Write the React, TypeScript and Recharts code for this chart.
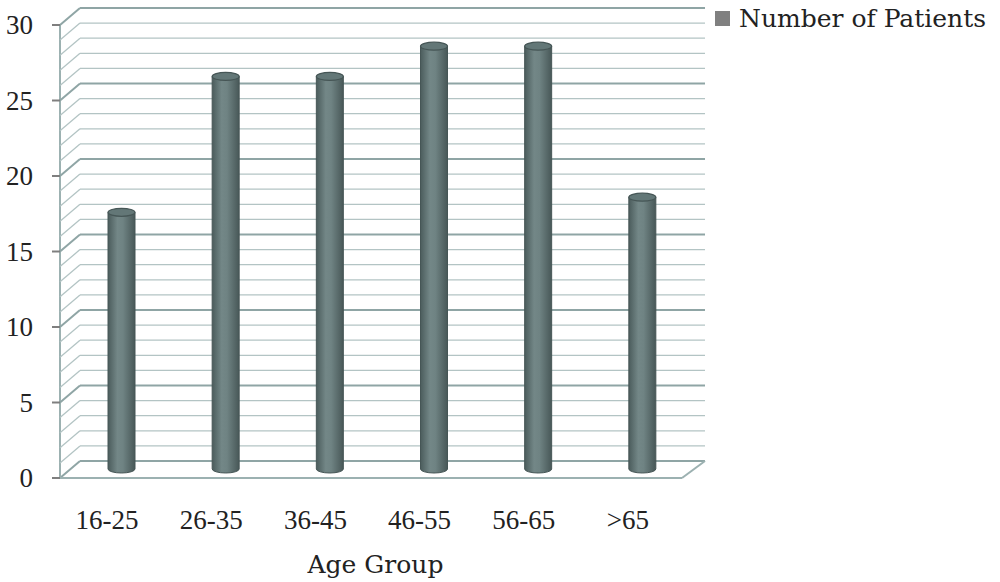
import React from "react";
import { BarChart, Bar, XAxis, YAxis, CartesianGrid } from "recharts";

// ── Data ──────────────────────────────────────────────────────────────────────

const ageGroups = ["16-25", "26-35", "36-45", "46-55", "56-65", ">65"];
const patients = [17, 26, 26, 28, 28, 18];
const gridSteps = [
  0, 1, 2, 3, 4, 5, 6, 7, 8, 9, 10, 11, 12, 13, 14, 15, 16, 17, 18, 19, 20, 21, 22, 23, 24, 25, 26,
  27, 28, 29, 30,
];
const labeledTicks = [0, 5, 10, 15, 20, 25, 30];

const data = ageGroups.map((g, i) => ({ group: g, patients: patients[i] }));

// ── 3D offsets (back wall -> front) ───────────────────────────────────────────

const DX = 20;
const DY = 17;
const NUM_FONT = "'Liberation Serif', serif";
const TEXT_FONT = "'DejaVu Serif', serif";
const MINOR = "#b3c4c4";
const MAJOR = "#8fa5a5";
const EDGE = "#9cb1b1";

function GridLine(props: any) {
  const { x1, y1, x2, index, y, height } = props;
  const isFloor = height !== undefined && Math.abs(y1 - (y + height)) < 1;
  const major = index % 5 === 0 || isFloor;
  const stroke = major ? MAJOR : MINOR;
  const sw = major ? 2 : 1.3;
  return (
    <g>
      <line x1={x1} y1={y1} x2={x2} y2={y1} stroke={stroke} strokeWidth={sw} />
      <line x1={x1} y1={y1} x2={x1 - DX} y2={y1 + DY} stroke={stroke} strokeWidth={sw} />
      {isFloor && (
        <g>
          <line x1={x1 - DX} y1={y1 + DY} x2={x2 - DX - 3} y2={y1 + DY} stroke={EDGE} strokeWidth={2} />
          <line x1={x2 - DX - 3} y1={y1 + DY} x2={x2} y2={y1} stroke={EDGE} strokeWidth={2} />
          <line x1={x1 - DX} y1={y1 + DY} x2={x1 - DX} y2={y + DY} stroke={EDGE} strokeWidth={2} />
        </g>
      )}
    </g>
  );
}

function ValueTick(props: any) {
  const { x, y, payload } = props;
  if (!labeledTicks.includes(payload.value)) return <g />;
  const fy = y + DY;
  return (
    <g>
      <line x1={x - DX - 8} y1={fy} x2={x - DX} y2={fy} stroke="#7f7f7f" strokeWidth={2} />
      <text x={x - 47} y={fy + 9} textAnchor="end" fontFamily={NUM_FONT} fontSize={27} fill="#222">
        {payload.value}
      </text>
    </g>
  );
}

function GroupTick(props: any) {
  const { x, y, payload } = props;
  return (
    <text x={x - 25} y={y + 68} textAnchor="middle" fontFamily={NUM_FONT} fontSize={27} fill="#222">
      {payload.value}
    </text>
  );
}

function Cylinder(props: any) {
  const { x, y, width, height, index } = props;
  const cx = x + width / 2 - 11;
  const rx = width / 2;
  const ry = 4;
  const top = y + 8;
  const bottom = y + height + 8;
  const left = cx - rx;
  const right = cx + rx;
  const id = `cyl-${index}`;
  return (
    <g>
      <defs>
        <linearGradient id={id} x1="0" y1="0" x2="1" y2="0">
          <stop offset="0%" stopColor="#4b5c5c" />
          <stop offset="35%" stopColor="#738787" />
          <stop offset="55%" stopColor="#6f8383" />
          <stop offset="100%" stopColor="#485858" />
        </linearGradient>
      </defs>
      <path
        d={`M${left},${top} L${left},${bottom} A${rx},${ry} 0 0 0 ${right},${bottom} L${right},${top} Z`}
        fill={`url(#${id})`}
        stroke="#465656"
        strokeWidth={1}
      />
      <ellipse cx={cx} cy={top} rx={rx} ry={ry} fill="#637777" stroke="#465656" strokeWidth={1.2} />
    </g>
  );
}

export default function App() {
  return (
    <div style={{ position: "absolute", left: 0, top: 0, width: 1000, height: 582, background: "#fff" }}>
      <BarChart
        width={1000}
        height={582}
        data={data}
        margin={{ top: 8, right: 295, bottom: 0, left: 0 }}
        barCategoryGap="0%"
      >
        <CartesianGrid vertical={false} horizontal={(p: any) => <GridLine key={p.key} {...p} />} />
        <XAxis
          dataKey="group"
          height={121}
          axisLine={false}
          tickLine={false}
          tickSize={0}
          tickMargin={0}
          interval={0}
          tick={<GroupTick />}
          label={{
            value: "Age Group",
            content: (p: any) => (
              <text
                x={p.viewBox.x + p.viewBox.width / 2 - 17}
                y={p.viewBox.y + 112}
                textAnchor="middle"
                fontFamily={TEXT_FONT}
                fontSize={25}
                fill="#222"
              >
                Age Group
              </text>
            ),
          }}
        />
        <YAxis
          width={80}
          domain={[0, 30]}
          ticks={gridSteps}
          interval={0}
          axisLine={false}
          tickLine={false}
          tickSize={0}
          tickMargin={0}
          tick={<ValueTick />}
        />
        <Bar dataKey="patients" barSize={27} shape={<Cylinder />} isAnimationActive={false} />
      </BarChart>
      <div
        style={{
          position: "absolute",
          left: 715,
          top: 0,
          display: "flex",
          alignItems: "center",
          height: 36,
          fontFamily: TEXT_FONT,
          fontSize: 25,
          color: "#222",
          whiteSpace: "nowrap",
        }}
      >
        <span style={{ display: "inline-block", width: 15, height: 15, background: "#808080", marginRight: 9 }} />
        Number of Patients
      </div>
    </div>
  );
}
